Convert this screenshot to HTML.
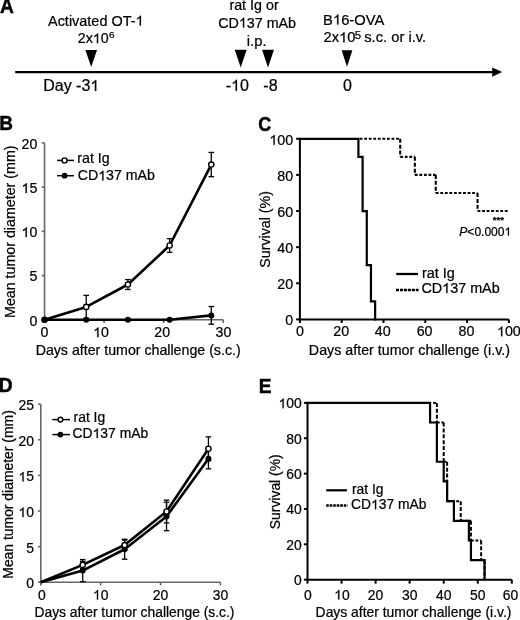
<!DOCTYPE html>
<html><head><meta charset="utf-8"><style>
html,body{margin:0;padding:0;background:#fff;}
svg{display:block;will-change:transform;}
text{font-family:"Liberation Sans", sans-serif;fill:#000;stroke:#000;stroke-width:0.22px;}
.h1{fill-opacity:0;stroke:none;}
</style></head><body>
<svg width="520" height="620" viewBox="0 0 520 620">
<rect width="520" height="620" fill="#fff"/>
<text transform="translate(0.05,13.30) scale(0.96,1)" font-size="20.00" font-weight="bold" style="stroke-width:0.45px">A</text>
<text x="48.00" y="25.60" font-size="14.46">Activated OT-<tspan class="h1">1</tspan></text>
<text x="77.75" y="43.20" font-size="14.26">2x<tspan class="h1">1</tspan>0</text>
<text x="109.05" y="37.60" font-size="9.94">6</text>
<text x="229.40" y="10.10" font-size="14.30">rat Ig or</text>
<text x="218.20" y="27.60" font-size="14.30">CD<tspan class="h1">1</tspan>37 mAb</text>
<text x="246.85" y="45.60" font-size="14.73">i.p.</text>
<text x="323.10" y="24.60" font-size="14.74">B<tspan class="h1">1</tspan>6-OVA</text>
<text x="323.55" y="42.40" font-size="14.70">2x<tspan class="h1">1</tspan>0</text>
<text x="354.85" y="38.50" font-size="11.39">5</text>
<text x="364.20" y="42.40" font-size="14.75">s.c. or i.v.</text>
<text x="43.20" y="91.00" font-size="16.00">Day -3<tspan class="h1">1</tspan></text>
<text x="225.70" y="90.80" font-size="16.00">-<tspan class="h1">1</tspan>0</text>
<text x="263.35" y="90.80" font-size="16.00">-8</text>
<text x="342.90" y="91.20" font-size="16.00">0</text>
<polygon points="85.40,50.00 97.00,50.00 91.20,67.00" fill="#000"/>
<polygon points="234.70,49.80 246.70,49.80 240.70,67.40" fill="#000"/>
<polygon points="262.00,49.80 274.00,49.80 268.00,67.40" fill="#000"/>
<polygon points="341.60,50.20 352.40,50.20 347.00,66.80" fill="#000"/>
<line x1="15.20" y1="72.10" x2="493.00" y2="72.10" stroke="#000" stroke-width="2.2"/>
<polygon points="492.20,67.40 502.20,72.10 492.20,76.80" fill="#000"/>
<text transform="translate(-0.70,129.50) scale(0.95,1)" font-size="20.00" font-weight="bold" style="stroke-width:0.45px">B</text>
<path d="M44.55,142.90 V319.80 H223.20" stroke="#666" stroke-width="1.6" fill="none"/>
<line x1="41.75" y1="319.80" x2="44.55" y2="319.80" stroke="#666" stroke-width="1.6"/>
<text x="37.30" y="325.57" font-size="14.2" text-anchor="end">0</text>
<line x1="41.75" y1="275.57" x2="44.55" y2="275.57" stroke="#666" stroke-width="1.6"/>
<text x="37.30" y="281.34" font-size="14.2" text-anchor="end">5</text>
<line x1="41.75" y1="231.35" x2="44.55" y2="231.35" stroke="#666" stroke-width="1.6"/>
<text x="37.30" y="237.12" font-size="14.2" text-anchor="end"><tspan class="h1">1</tspan>0</text>
<line x1="41.75" y1="187.12" x2="44.55" y2="187.12" stroke="#666" stroke-width="1.6"/>
<text x="37.30" y="192.90" font-size="14.2" text-anchor="end"><tspan class="h1">1</tspan>5</text>
<line x1="41.75" y1="142.90" x2="44.55" y2="142.90" stroke="#666" stroke-width="1.6"/>
<text x="37.30" y="148.67" font-size="14.2" text-anchor="end">20</text>
<line x1="44.55" y1="319.80" x2="44.55" y2="323.00" stroke="#666" stroke-width="1.6"/>
<text x="44.55" y="337.20" font-size="14.2" text-anchor="middle">0</text>
<line x1="104.10" y1="319.80" x2="104.10" y2="323.00" stroke="#666" stroke-width="1.6"/>
<text x="101.10" y="337.20" font-size="14.2" text-anchor="middle"><tspan class="h1">1</tspan>0</text>
<line x1="163.65" y1="319.80" x2="163.65" y2="323.00" stroke="#666" stroke-width="1.6"/>
<text x="162.15" y="337.20" font-size="14.2" text-anchor="middle">20</text>
<line x1="223.20" y1="319.80" x2="223.20" y2="323.00" stroke="#666" stroke-width="1.6"/>
<text x="223.40" y="337.20" font-size="14.2" text-anchor="middle">30</text>
<text x="35.65" y="355.30" font-size="14.19">Days after tumor challenge (s.c.)</text>
<text transform="translate(15.00,317.95) rotate(-90)" font-size="14.24">Mean tumor diameter (mm)</text>
<line x1="86.23" y1="306.89" x2="86.23" y2="295.39" stroke="#000" stroke-width="1.3"/>
<line x1="83.44" y1="295.39" x2="89.03" y2="295.39" stroke="#000" stroke-width="1.3"/>
<line x1="86.23" y1="306.89" x2="86.23" y2="318.38" stroke="#000" stroke-width="1.3"/>
<line x1="83.44" y1="318.38" x2="89.03" y2="318.38" stroke="#000" stroke-width="1.3"/>
<line x1="127.92" y1="284.51" x2="127.92" y2="279.56" stroke="#000" stroke-width="1.3"/>
<line x1="125.12" y1="279.56" x2="130.72" y2="279.56" stroke="#000" stroke-width="1.3"/>
<line x1="127.92" y1="284.51" x2="127.92" y2="289.46" stroke="#000" stroke-width="1.3"/>
<line x1="125.12" y1="289.46" x2="130.72" y2="289.46" stroke="#000" stroke-width="1.3"/>
<line x1="169.61" y1="245.50" x2="169.61" y2="238.69" stroke="#000" stroke-width="1.3"/>
<line x1="166.81" y1="238.69" x2="172.41" y2="238.69" stroke="#000" stroke-width="1.3"/>
<line x1="169.61" y1="245.50" x2="169.61" y2="252.31" stroke="#000" stroke-width="1.3"/>
<line x1="166.81" y1="252.31" x2="172.41" y2="252.31" stroke="#000" stroke-width="1.3"/>
<line x1="211.29" y1="164.57" x2="211.29" y2="152.45" stroke="#000" stroke-width="1.3"/>
<line x1="208.49" y1="152.45" x2="214.09" y2="152.45" stroke="#000" stroke-width="1.3"/>
<line x1="211.29" y1="164.57" x2="211.29" y2="176.69" stroke="#000" stroke-width="1.3"/>
<line x1="208.49" y1="176.69" x2="214.09" y2="176.69" stroke="#000" stroke-width="1.3"/>
<line x1="211.29" y1="315.38" x2="211.29" y2="306.53" stroke="#000" stroke-width="1.3"/>
<line x1="208.49" y1="306.53" x2="214.09" y2="306.53" stroke="#000" stroke-width="1.3"/>
<line x1="211.29" y1="315.38" x2="211.29" y2="324.22" stroke="#000" stroke-width="1.3"/>
<line x1="208.49" y1="324.22" x2="214.09" y2="324.22" stroke="#000" stroke-width="1.3"/>
<path d="M44.55,319.80 L86.23,306.89 L127.92,284.51 L169.61,245.50 L211.29,164.57" stroke="#000" stroke-width="2.6" fill="none" stroke-linejoin="round"/>
<path d="M44.55,319.80 L86.23,319.80 L127.92,319.80 L169.61,319.80 L211.29,315.38" stroke="#000" stroke-width="2.6" fill="none" stroke-linejoin="round"/>
<circle cx="44.55" cy="319.80" r="2.6" fill="#fff" stroke="#000" stroke-width="1.4"/>
<circle cx="86.23" cy="306.89" r="2.6" fill="#fff" stroke="#000" stroke-width="1.4"/>
<circle cx="127.92" cy="284.51" r="2.6" fill="#fff" stroke="#000" stroke-width="1.4"/>
<circle cx="169.61" cy="245.50" r="2.6" fill="#fff" stroke="#000" stroke-width="1.4"/>
<circle cx="211.29" cy="164.57" r="2.6" fill="#fff" stroke="#000" stroke-width="1.4"/>
<circle cx="44.55" cy="319.80" r="3.0" fill="#000" stroke="none" stroke-width="0"/>
<circle cx="86.23" cy="319.80" r="3.0" fill="#000" stroke="none" stroke-width="0"/>
<circle cx="127.92" cy="319.80" r="3.0" fill="#000" stroke="none" stroke-width="0"/>
<circle cx="169.61" cy="319.80" r="3.0" fill="#000" stroke="none" stroke-width="0"/>
<circle cx="211.29" cy="315.38" r="3.0" fill="#000" stroke="none" stroke-width="0"/>
<line x1="57.10" y1="160.40" x2="73.90" y2="160.40" stroke="#000" stroke-width="1.5"/>
<circle cx="64.60" cy="160.40" r="2.5" fill="#fff" stroke="#000" stroke-width="1.4"/>
<line x1="57.10" y1="175.70" x2="73.90" y2="175.70" stroke="#000" stroke-width="1.5"/>
<circle cx="64.60" cy="175.70" r="2.9" fill="#000" stroke="none" stroke-width="0"/>
<text x="77.30" y="163.30" font-size="14.17">rat Ig</text>
<text x="77.75" y="180.40" font-size="14.17">CD<tspan class="h1">1</tspan>37 mAb</text>
<text transform="translate(-1.20,392.00) scale(0.96,1)" font-size="20.00" font-weight="bold" style="stroke-width:0.45px">D</text>
<path d="M40.80,404.20 V582.20 H220.41" stroke="#666" stroke-width="1.6" fill="none"/>
<line x1="38.00" y1="582.20" x2="40.80" y2="582.20" stroke="#666" stroke-width="1.6"/>
<text x="33.90" y="588.27" font-size="13.9" text-anchor="end">0</text>
<line x1="38.00" y1="546.60" x2="40.80" y2="546.60" stroke="#666" stroke-width="1.6"/>
<text x="33.90" y="552.67" font-size="13.9" text-anchor="end">5</text>
<line x1="38.00" y1="511.00" x2="40.80" y2="511.00" stroke="#666" stroke-width="1.6"/>
<text x="33.90" y="517.07" font-size="13.9" text-anchor="end"><tspan class="h1">1</tspan>0</text>
<line x1="38.00" y1="475.40" x2="40.80" y2="475.40" stroke="#666" stroke-width="1.6"/>
<text x="33.90" y="481.47" font-size="13.9" text-anchor="end"><tspan class="h1">1</tspan>5</text>
<line x1="38.00" y1="439.80" x2="40.80" y2="439.80" stroke="#666" stroke-width="1.6"/>
<text x="33.90" y="445.87" font-size="13.9" text-anchor="end">20</text>
<line x1="38.00" y1="404.20" x2="40.80" y2="404.20" stroke="#666" stroke-width="1.6"/>
<text x="33.90" y="410.27" font-size="13.9" text-anchor="end">25</text>
<line x1="40.80" y1="582.20" x2="40.80" y2="585.40" stroke="#666" stroke-width="1.6"/>
<text x="41.80" y="599.60" font-size="13.9" text-anchor="middle">0</text>
<line x1="100.67" y1="582.20" x2="100.67" y2="585.40" stroke="#666" stroke-width="1.6"/>
<text x="100.67" y="599.60" font-size="13.9" text-anchor="middle"><tspan class="h1">1</tspan>0</text>
<line x1="160.54" y1="582.20" x2="160.54" y2="585.40" stroke="#666" stroke-width="1.6"/>
<text x="160.54" y="599.60" font-size="13.9" text-anchor="middle">20</text>
<line x1="220.41" y1="582.20" x2="220.41" y2="585.40" stroke="#666" stroke-width="1.6"/>
<text x="220.41" y="599.60" font-size="13.9" text-anchor="middle">30</text>
<text x="34.45" y="616.50" font-size="13.85">Days after tumor challenge (s.c.)</text>
<text transform="translate(12.70,578.70) rotate(-90)" font-size="13.92">Mean tumor diameter (mm)</text>
<line x1="82.71" y1="564.90" x2="82.71" y2="561.34" stroke="#000" stroke-width="1.3"/>
<line x1="79.91" y1="561.34" x2="85.51" y2="561.34" stroke="#000" stroke-width="1.3"/>
<line x1="82.71" y1="564.90" x2="82.71" y2="568.46" stroke="#000" stroke-width="1.3"/>
<line x1="79.91" y1="568.46" x2="85.51" y2="568.46" stroke="#000" stroke-width="1.3"/>
<line x1="124.62" y1="545.03" x2="124.62" y2="540.05" stroke="#000" stroke-width="1.3"/>
<line x1="121.82" y1="540.05" x2="127.42" y2="540.05" stroke="#000" stroke-width="1.3"/>
<line x1="124.62" y1="545.03" x2="124.62" y2="550.02" stroke="#000" stroke-width="1.3"/>
<line x1="121.82" y1="550.02" x2="127.42" y2="550.02" stroke="#000" stroke-width="1.3"/>
<line x1="166.53" y1="511.50" x2="166.53" y2="500.11" stroke="#000" stroke-width="1.3"/>
<line x1="163.73" y1="500.11" x2="169.33" y2="500.11" stroke="#000" stroke-width="1.3"/>
<line x1="166.53" y1="511.50" x2="166.53" y2="522.89" stroke="#000" stroke-width="1.3"/>
<line x1="163.73" y1="522.89" x2="169.33" y2="522.89" stroke="#000" stroke-width="1.3"/>
<line x1="208.44" y1="448.77" x2="208.44" y2="436.88" stroke="#000" stroke-width="1.3"/>
<line x1="205.64" y1="436.88" x2="211.24" y2="436.88" stroke="#000" stroke-width="1.3"/>
<line x1="208.44" y1="448.77" x2="208.44" y2="460.66" stroke="#000" stroke-width="1.3"/>
<line x1="205.64" y1="460.66" x2="211.24" y2="460.66" stroke="#000" stroke-width="1.3"/>
<line x1="82.71" y1="570.59" x2="82.71" y2="559.56" stroke="#000" stroke-width="1.3"/>
<line x1="79.91" y1="559.56" x2="85.51" y2="559.56" stroke="#000" stroke-width="1.3"/>
<line x1="82.71" y1="570.59" x2="82.71" y2="581.63" stroke="#000" stroke-width="1.3"/>
<line x1="79.91" y1="581.63" x2="85.51" y2="581.63" stroke="#000" stroke-width="1.3"/>
<line x1="124.62" y1="549.23" x2="124.62" y2="539.27" stroke="#000" stroke-width="1.3"/>
<line x1="121.82" y1="539.27" x2="127.42" y2="539.27" stroke="#000" stroke-width="1.3"/>
<line x1="124.62" y1="549.23" x2="124.62" y2="559.20" stroke="#000" stroke-width="1.3"/>
<line x1="121.82" y1="559.20" x2="127.42" y2="559.20" stroke="#000" stroke-width="1.3"/>
<line x1="166.53" y1="516.48" x2="166.53" y2="502.24" stroke="#000" stroke-width="1.3"/>
<line x1="163.73" y1="502.24" x2="169.33" y2="502.24" stroke="#000" stroke-width="1.3"/>
<line x1="166.53" y1="516.48" x2="166.53" y2="530.72" stroke="#000" stroke-width="1.3"/>
<line x1="163.73" y1="530.72" x2="169.33" y2="530.72" stroke="#000" stroke-width="1.3"/>
<line x1="208.44" y1="458.67" x2="208.44" y2="448.49" stroke="#000" stroke-width="1.3"/>
<line x1="205.64" y1="448.49" x2="211.24" y2="448.49" stroke="#000" stroke-width="1.3"/>
<line x1="208.44" y1="458.67" x2="208.44" y2="468.85" stroke="#000" stroke-width="1.3"/>
<line x1="205.64" y1="468.85" x2="211.24" y2="468.85" stroke="#000" stroke-width="1.3"/>
<path d="M40.80,582.20 L82.71,564.90 L124.62,545.03 L166.53,511.50 L208.44,448.77" stroke="#000" stroke-width="2.6" fill="none" stroke-linejoin="round"/>
<path d="M40.80,582.20 L82.71,570.59 L124.62,549.23 L166.53,516.48 L208.44,458.67" stroke="#000" stroke-width="2.6" fill="none" stroke-linejoin="round"/>
<circle cx="82.71" cy="570.59" r="3.0" fill="#000" stroke="none" stroke-width="0"/>
<circle cx="124.62" cy="549.23" r="3.0" fill="#000" stroke="none" stroke-width="0"/>
<circle cx="166.53" cy="516.48" r="3.0" fill="#000" stroke="none" stroke-width="0"/>
<circle cx="208.44" cy="458.67" r="3.0" fill="#000" stroke="none" stroke-width="0"/>
<circle cx="82.71" cy="564.90" r="2.6" fill="#fff" stroke="#000" stroke-width="1.4"/>
<circle cx="124.62" cy="545.03" r="2.6" fill="#fff" stroke="#000" stroke-width="1.4"/>
<circle cx="166.53" cy="511.50" r="2.6" fill="#fff" stroke="#000" stroke-width="1.4"/>
<circle cx="208.44" cy="448.77" r="2.6" fill="#fff" stroke="#000" stroke-width="1.4"/>
<line x1="52.30" y1="419.60" x2="70.00" y2="419.60" stroke="#000" stroke-width="1.5"/>
<circle cx="60.40" cy="419.60" r="2.4" fill="#fff" stroke="#000" stroke-width="1.4"/>
<line x1="52.30" y1="434.60" x2="70.00" y2="434.60" stroke="#000" stroke-width="1.5"/>
<circle cx="60.40" cy="434.60" r="2.9" fill="#000" stroke="none" stroke-width="0"/>
<text x="73.55" y="422.30" font-size="13.89">rat Ig</text>
<text x="72.60" y="438.00" font-size="13.89">CD<tspan class="h1">1</tspan>37 mAb</text>
<text transform="translate(258.35,130.50) scale(0.9,1)" font-size="20.00" font-weight="bold" style="stroke-width:0.45px">C</text>
<path d="M299.90,138.80 V319.40 H508.90" stroke="#000" stroke-width="2.0" fill="none"/>
<line x1="296.10" y1="319.40" x2="299.90" y2="319.40" stroke="#000" stroke-width="2.0"/>
<text x="293.20" y="325.29" font-size="14.25" text-anchor="end">0</text>
<line x1="296.10" y1="283.28" x2="299.90" y2="283.28" stroke="#000" stroke-width="2.0"/>
<text x="293.20" y="289.17" font-size="14.25" text-anchor="end">20</text>
<line x1="296.10" y1="247.16" x2="299.90" y2="247.16" stroke="#000" stroke-width="2.0"/>
<text x="293.20" y="253.05" font-size="14.25" text-anchor="end">40</text>
<line x1="296.10" y1="211.04" x2="299.90" y2="211.04" stroke="#000" stroke-width="2.0"/>
<text x="293.20" y="216.93" font-size="14.25" text-anchor="end">60</text>
<line x1="296.10" y1="174.92" x2="299.90" y2="174.92" stroke="#000" stroke-width="2.0"/>
<text x="293.20" y="180.81" font-size="14.25" text-anchor="end">80</text>
<line x1="296.10" y1="138.80" x2="299.90" y2="138.80" stroke="#000" stroke-width="2.0"/>
<text x="293.20" y="144.69" font-size="14.25" text-anchor="end"><tspan class="h1">1</tspan>00</text>
<line x1="299.90" y1="319.40" x2="299.90" y2="323.00" stroke="#000" stroke-width="2.0"/>
<text x="299.90" y="336.30" font-size="14.25" text-anchor="middle">0</text>
<line x1="341.70" y1="319.40" x2="341.70" y2="323.00" stroke="#000" stroke-width="2.0"/>
<text x="341.30" y="336.30" font-size="14.25" text-anchor="middle">20</text>
<line x1="383.50" y1="319.40" x2="383.50" y2="323.00" stroke="#000" stroke-width="2.0"/>
<text x="382.80" y="336.30" font-size="14.25" text-anchor="middle">40</text>
<line x1="425.30" y1="319.40" x2="425.30" y2="323.00" stroke="#000" stroke-width="2.0"/>
<text x="424.60" y="336.30" font-size="14.25" text-anchor="middle">60</text>
<line x1="467.10" y1="319.40" x2="467.10" y2="323.00" stroke="#000" stroke-width="2.0"/>
<text x="466.50" y="336.30" font-size="14.25" text-anchor="middle">80</text>
<line x1="508.90" y1="319.40" x2="508.90" y2="323.00" stroke="#000" stroke-width="2.0"/>
<text x="508.90" y="336.30" font-size="14.25" text-anchor="middle"><tspan class="h1">1</tspan>00</text>
<text x="308.85" y="355.30" font-size="14.28">Days after tumor challenge (i.v.)</text>
<text transform="translate(269.80,267.80) rotate(-90)" font-size="14.25">Survival (%)</text>
<line x1="359.67" y1="138.80" x2="400.22" y2="138.80" stroke="#000" stroke-width="2.1" stroke-dasharray="2.8 1.75"/>
<line x1="400.22" y1="138.80" x2="400.22" y2="156.86" stroke="#000" stroke-width="2.1" stroke-dasharray="4 1.9"/>
<line x1="400.22" y1="156.86" x2="414.85" y2="156.86" stroke="#000" stroke-width="2.1" stroke-dasharray="2.8 1.75"/>
<line x1="414.85" y1="156.86" x2="414.85" y2="174.92" stroke="#000" stroke-width="2.1" stroke-dasharray="4 1.9"/>
<line x1="414.85" y1="174.92" x2="435.75" y2="174.92" stroke="#000" stroke-width="2.1" stroke-dasharray="2.8 1.75"/>
<line x1="435.75" y1="174.92" x2="435.75" y2="192.98" stroke="#000" stroke-width="2.1" stroke-dasharray="4 1.9"/>
<line x1="435.75" y1="192.98" x2="477.55" y2="192.98" stroke="#000" stroke-width="2.1" stroke-dasharray="2.8 1.75"/>
<line x1="477.55" y1="192.98" x2="477.55" y2="211.04" stroke="#000" stroke-width="2.1" stroke-dasharray="4 1.9"/>
<line x1="477.55" y1="211.04" x2="508.90" y2="211.04" stroke="#000" stroke-width="2.1" stroke-dasharray="2.8 1.75"/>
<path d="M299.90,138.80 L358.42,138.80 L358.42,156.86 L362.60,156.86 L362.60,211.04 L366.78,211.04 L366.78,265.22 L370.96,265.22 L370.96,301.34 L375.14,301.34 L375.14,319.40" stroke="#000" stroke-width="2.2" fill="none" stroke-linecap="square"/>
<text x="492.75" y="222.50" font-size="9.60" font-weight="bold">***</text>
<text x="459.35" y="235.60" font-size="12.03"><tspan font-style="italic">P</tspan>&lt;0.000<tspan class="h1">1</tspan></text>
<line x1="396.20" y1="274.00" x2="418.00" y2="274.00" stroke="#000" stroke-width="2.3"/>
<line x1="396.00" y1="289.90" x2="418.60" y2="289.90" stroke="#000" stroke-width="2.5" stroke-dasharray="3 0.95"/>
<text x="421.90" y="277.90" font-size="14.38">rat Ig</text>
<text x="421.40" y="293.00" font-size="14.38">CD<tspan class="h1">1</tspan>37 mAb</text>
<text transform="translate(258.80,392.80) scale(0.96,1)" font-size="20.00" font-weight="bold" style="stroke-width:0.45px">E</text>
<path d="M307.50,402.90 V579.65 H511.80" stroke="#000" stroke-width="2.0" fill="none"/>
<line x1="303.90" y1="579.65" x2="307.50" y2="579.65" stroke="#000" stroke-width="2.0"/>
<text x="301.70" y="584.91" font-size="13.9" text-anchor="end">0</text>
<line x1="303.90" y1="544.30" x2="307.50" y2="544.30" stroke="#000" stroke-width="2.0"/>
<text x="301.70" y="549.56" font-size="13.9" text-anchor="end">20</text>
<line x1="303.90" y1="508.95" x2="307.50" y2="508.95" stroke="#000" stroke-width="2.0"/>
<text x="301.70" y="514.22" font-size="13.9" text-anchor="end">40</text>
<line x1="303.90" y1="473.60" x2="307.50" y2="473.60" stroke="#000" stroke-width="2.0"/>
<text x="301.70" y="478.86" font-size="13.9" text-anchor="end">60</text>
<line x1="303.90" y1="438.25" x2="307.50" y2="438.25" stroke="#000" stroke-width="2.0"/>
<text x="301.70" y="443.51" font-size="13.9" text-anchor="end">80</text>
<line x1="303.90" y1="402.90" x2="307.50" y2="402.90" stroke="#000" stroke-width="2.0"/>
<text x="301.70" y="408.16" font-size="13.9" text-anchor="end"><tspan class="h1">1</tspan>00</text>
<line x1="307.50" y1="579.65" x2="307.50" y2="583.65" stroke="#000" stroke-width="2.0"/>
<text x="307.90" y="599.60" font-size="13.9" text-anchor="middle">0</text>
<line x1="341.55" y1="579.65" x2="341.55" y2="583.65" stroke="#000" stroke-width="2.0"/>
<text x="341.95" y="599.60" font-size="13.9" text-anchor="middle"><tspan class="h1">1</tspan>0</text>
<line x1="375.60" y1="579.65" x2="375.60" y2="583.65" stroke="#000" stroke-width="2.0"/>
<text x="375.60" y="599.60" font-size="13.9" text-anchor="middle">20</text>
<line x1="409.65" y1="579.65" x2="409.65" y2="583.65" stroke="#000" stroke-width="2.0"/>
<text x="409.65" y="599.60" font-size="13.9" text-anchor="middle">30</text>
<line x1="443.70" y1="579.65" x2="443.70" y2="583.65" stroke="#000" stroke-width="2.0"/>
<text x="443.70" y="599.60" font-size="13.9" text-anchor="middle">40</text>
<line x1="477.75" y1="579.65" x2="477.75" y2="583.65" stroke="#000" stroke-width="2.0"/>
<text x="477.75" y="599.60" font-size="13.9" text-anchor="middle">50</text>
<line x1="511.80" y1="579.65" x2="511.80" y2="583.65" stroke="#000" stroke-width="2.0"/>
<text x="510.60" y="599.60" font-size="13.9" text-anchor="middle">60</text>
<text x="315.60" y="616.80" font-size="13.90">Days after tumor challenge (i.v.)</text>
<text transform="translate(279.60,529.20) rotate(-90)" font-size="13.90">Survival (%)</text>
<line x1="433.14" y1="402.90" x2="436.89" y2="402.90" stroke="#000" stroke-width="2.0" stroke-dasharray="2.8 1.75"/>
<line x1="436.89" y1="402.90" x2="436.89" y2="422.52" stroke="#000" stroke-width="2.0" stroke-dasharray="4 1.9"/>
<line x1="436.89" y1="422.52" x2="443.70" y2="422.52" stroke="#000" stroke-width="2.0" stroke-dasharray="2.8 1.75"/>
<line x1="443.70" y1="422.52" x2="443.70" y2="461.76" stroke="#000" stroke-width="2.0" stroke-dasharray="4 1.9"/>
<line x1="443.70" y1="461.76" x2="447.11" y2="461.76" stroke="#000" stroke-width="2.0" stroke-dasharray="2.8 1.75"/>
<line x1="447.11" y1="461.76" x2="447.11" y2="501.17" stroke="#000" stroke-width="2.0" stroke-dasharray="4 1.9"/>
<line x1="447.11" y1="501.17" x2="460.73" y2="501.17" stroke="#000" stroke-width="2.0" stroke-dasharray="2.8 1.75"/>
<line x1="460.73" y1="501.17" x2="460.73" y2="520.79" stroke="#000" stroke-width="2.0" stroke-dasharray="4 1.9"/>
<line x1="460.73" y1="520.79" x2="470.94" y2="520.79" stroke="#000" stroke-width="2.0" stroke-dasharray="2.8 1.75"/>
<line x1="470.94" y1="520.79" x2="470.94" y2="540.41" stroke="#000" stroke-width="2.0" stroke-dasharray="4 1.9"/>
<line x1="470.94" y1="540.41" x2="481.15" y2="540.41" stroke="#000" stroke-width="2.0" stroke-dasharray="2.8 1.75"/>
<line x1="481.15" y1="540.41" x2="481.15" y2="560.03" stroke="#000" stroke-width="2.0" stroke-dasharray="4 1.9"/>
<line x1="481.15" y1="560.03" x2="484.56" y2="560.03" stroke="#000" stroke-width="2.0" stroke-dasharray="2.8 1.75"/>
<line x1="484.56" y1="560.03" x2="484.56" y2="579.65" stroke="#000" stroke-width="2.0" stroke-dasharray="4 1.9"/>
<path d="M307.50,402.90 L430.08,402.90 L430.08,422.52 L436.89,422.52 L436.89,461.76 L443.70,461.76 L443.70,481.38 L447.11,481.38 L447.11,501.17 L453.91,501.17 L453.91,520.79 L468.90,520.79 L468.90,540.41 L470.94,540.41 L470.94,560.03 L484.56,560.03 L484.56,579.65" stroke="#000" stroke-width="2.2" fill="none" stroke-linecap="square"/>
<line x1="326.20" y1="490.30" x2="346.90" y2="490.30" stroke="#000" stroke-width="2.2"/>
<line x1="326.20" y1="505.50" x2="347.60" y2="505.50" stroke="#000" stroke-width="2.4" stroke-dasharray="2.6 0.9"/>
<text x="351.95" y="493.50" font-size="13.83">rat Ig</text>
<text x="351.05" y="509.20" font-size="13.83">CD<tspan class="h1">1</tspan>37 mAb</text>
<path transform="translate(135.56,25.60) scale(0.007061,-0.007061)" d="M583,0 L763,0 L763,1409 L646,1409 C610,1340 550,1270 470,1205 C390,1140 300,1085 223,1050 L223,880 C270,898 330,928 400,972 C470,1016 540,1062 583,1105 Z" stroke="#000" stroke-width="0.22" vector-effect="non-scaling-stroke"/>
<path transform="translate(92.81,43.20) scale(0.006963,-0.006963)" d="M583,0 L763,0 L763,1409 L646,1409 C610,1340 550,1270 470,1205 C390,1140 300,1085 223,1050 L223,880 C270,898 330,928 400,972 C470,1016 540,1062 583,1105 Z" stroke="#000" stroke-width="0.22" vector-effect="non-scaling-stroke"/>
<path transform="translate(238.86,27.60) scale(0.006982,-0.006982)" d="M583,0 L763,0 L763,1409 L646,1409 C610,1340 550,1270 470,1205 C390,1140 300,1085 223,1050 L223,880 C270,898 330,928 400,972 C470,1016 540,1062 583,1105 Z" stroke="#000" stroke-width="0.22" vector-effect="non-scaling-stroke"/>
<path transform="translate(332.93,24.60) scale(0.007197,-0.007197)" d="M583,0 L763,0 L763,1409 L646,1409 C610,1340 550,1270 470,1205 C390,1140 300,1085 223,1050 L223,880 C270,898 330,928 400,972 C470,1016 540,1062 583,1105 Z" stroke="#000" stroke-width="0.22" vector-effect="non-scaling-stroke"/>
<path transform="translate(339.07,42.40) scale(0.007178,-0.007178)" d="M583,0 L763,0 L763,1409 L646,1409 C610,1340 550,1270 470,1205 C390,1140 300,1085 223,1050 L223,880 C270,898 330,928 400,972 C470,1016 540,1062 583,1105 Z" stroke="#000" stroke-width="0.22" vector-effect="non-scaling-stroke"/>
<path transform="translate(90.32,91.00) scale(0.007812,-0.007812)" d="M583,0 L763,0 L763,1409 L646,1409 C610,1340 550,1270 470,1205 C390,1140 300,1085 223,1050 L223,880 C270,898 330,928 400,972 C470,1016 540,1062 583,1105 Z" stroke="#000" stroke-width="0.22" vector-effect="non-scaling-stroke"/>
<path transform="translate(231.03,90.80) scale(0.007812,-0.007812)" d="M583,0 L763,0 L763,1409 L646,1409 C610,1340 550,1270 470,1205 C390,1140 300,1085 223,1050 L223,880 C270,898 330,928 400,972 C470,1016 540,1062 583,1105 Z" stroke="#000" stroke-width="0.22" vector-effect="non-scaling-stroke"/>
<path transform="translate(21.52,237.12) scale(0.006934,-0.006934)" d="M583,0 L763,0 L763,1409 L646,1409 C610,1340 550,1270 470,1205 C390,1140 300,1085 223,1050 L223,880 C270,898 330,928 400,972 C470,1016 540,1062 583,1105 Z" stroke="#000" stroke-width="0.22" vector-effect="non-scaling-stroke"/>
<path transform="translate(21.52,192.90) scale(0.006934,-0.006934)" d="M583,0 L763,0 L763,1409 L646,1409 C610,1340 550,1270 470,1205 C390,1140 300,1085 223,1050 L223,880 C270,898 330,928 400,972 C470,1016 540,1062 583,1105 Z" stroke="#000" stroke-width="0.22" vector-effect="non-scaling-stroke"/>
<path transform="translate(93.21,337.20) scale(0.006934,-0.006934)" d="M583,0 L763,0 L763,1409 L646,1409 C610,1340 550,1270 470,1205 C390,1140 300,1085 223,1050 L223,880 C270,898 330,928 400,972 C470,1016 540,1062 583,1105 Z" stroke="#000" stroke-width="0.22" vector-effect="non-scaling-stroke"/>
<path transform="translate(98.20,180.40) scale(0.006919,-0.006919)" d="M583,0 L763,0 L763,1409 L646,1409 C610,1340 550,1270 470,1205 C390,1140 300,1085 223,1050 L223,880 C270,898 330,928 400,972 C470,1016 540,1062 583,1105 Z" stroke="#000" stroke-width="0.22" vector-effect="non-scaling-stroke"/>
<path transform="translate(18.43,517.07) scale(0.006787,-0.006787)" d="M583,0 L763,0 L763,1409 L646,1409 C610,1340 550,1270 470,1205 C390,1140 300,1085 223,1050 L223,880 C270,898 330,928 400,972 C470,1016 540,1062 583,1105 Z" stroke="#000" stroke-width="0.22" vector-effect="non-scaling-stroke"/>
<path transform="translate(18.43,481.47) scale(0.006787,-0.006787)" d="M583,0 L763,0 L763,1409 L646,1409 C610,1340 550,1270 470,1205 C390,1140 300,1085 223,1050 L223,880 C270,898 330,928 400,972 C470,1016 540,1062 583,1105 Z" stroke="#000" stroke-width="0.22" vector-effect="non-scaling-stroke"/>
<path transform="translate(92.94,599.60) scale(0.006787,-0.006787)" d="M583,0 L763,0 L763,1409 L646,1409 C610,1340 550,1270 470,1205 C390,1140 300,1085 223,1050 L223,880 C270,898 330,928 400,972 C470,1016 540,1062 583,1105 Z" stroke="#000" stroke-width="0.22" vector-effect="non-scaling-stroke"/>
<path transform="translate(92.65,438.00) scale(0.006782,-0.006782)" d="M583,0 L763,0 L763,1409 L646,1409 C610,1340 550,1270 470,1205 C390,1140 300,1085 223,1050 L223,880 C270,898 330,928 400,972 C470,1016 540,1062 583,1105 Z" stroke="#000" stroke-width="0.22" vector-effect="non-scaling-stroke"/>
<path transform="translate(269.40,144.69) scale(0.006958,-0.006958)" d="M583,0 L763,0 L763,1409 L646,1409 C610,1340 550,1270 470,1205 C390,1140 300,1085 223,1050 L223,880 C270,898 330,928 400,972 C470,1016 540,1062 583,1105 Z" stroke="#000" stroke-width="0.22" vector-effect="non-scaling-stroke"/>
<path transform="translate(497.00,336.30) scale(0.006958,-0.006958)" d="M583,0 L763,0 L763,1409 L646,1409 C610,1340 550,1270 470,1205 C390,1140 300,1085 223,1050 L223,880 C270,898 330,928 400,972 C470,1016 540,1062 583,1105 Z" stroke="#000" stroke-width="0.22" vector-effect="non-scaling-stroke"/>
<path transform="translate(504.46,235.60) scale(0.005874,-0.005874)" d="M583,0 L763,0 L763,1409 L646,1409 C610,1340 550,1270 470,1205 C390,1140 300,1085 223,1050 L223,880 C270,898 330,928 400,972 C470,1016 540,1062 583,1105 Z" stroke="#000" stroke-width="0.22" vector-effect="non-scaling-stroke"/>
<path transform="translate(442.17,293.00) scale(0.007021,-0.007021)" d="M583,0 L763,0 L763,1409 L646,1409 C610,1340 550,1270 470,1205 C390,1140 300,1085 223,1050 L223,880 C270,898 330,928 400,972 C470,1016 540,1062 583,1105 Z" stroke="#000" stroke-width="0.22" vector-effect="non-scaling-stroke"/>
<path transform="translate(278.51,408.16) scale(0.006787,-0.006787)" d="M583,0 L763,0 L763,1409 L646,1409 C610,1340 550,1270 470,1205 C390,1140 300,1085 223,1050 L223,880 C270,898 330,928 400,972 C470,1016 540,1062 583,1105 Z" stroke="#000" stroke-width="0.22" vector-effect="non-scaling-stroke"/>
<path transform="translate(334.22,599.60) scale(0.006787,-0.006787)" d="M583,0 L763,0 L763,1409 L646,1409 C610,1340 550,1270 470,1205 C390,1140 300,1085 223,1050 L223,880 C270,898 330,928 400,972 C470,1016 540,1062 583,1105 Z" stroke="#000" stroke-width="0.22" vector-effect="non-scaling-stroke"/>
<path transform="translate(371.03,509.20) scale(0.006753,-0.006753)" d="M583,0 L763,0 L763,1409 L646,1409 C610,1340 550,1270 470,1205 C390,1140 300,1085 223,1050 L223,880 C270,898 330,928 400,972 C470,1016 540,1062 583,1105 Z" stroke="#000" stroke-width="0.22" vector-effect="non-scaling-stroke"/>
</svg>
</body></html>
